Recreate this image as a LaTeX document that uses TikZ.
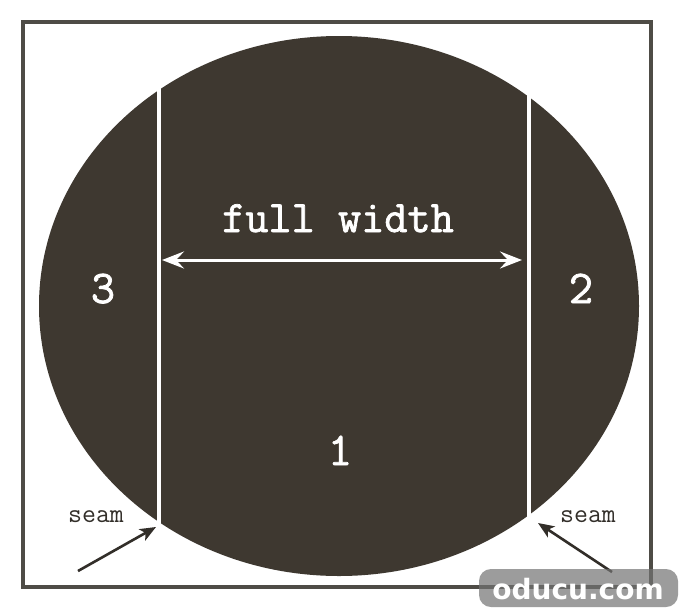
\documentclass[tikz,border=0pt]{standalone}
\usepackage{fontspec}
\usetikzlibrary{arrows.meta,shapes.geometric}
\newfontfamily\wmfont{DejaVu Sans}
\newfontfamily\twfont{Latin Modern Mono}[FakeBold=1.6]
\newfontfamily\twlight{Latin Modern Mono}
\definecolor{discbrown}{RGB}{62,56,48}
\definecolor{framegray}{RGB}{78,76,70}
\definecolor{arrowdark}{RGB}{50,46,41}
\tikzset{
  framebox/.style={draw=framegray, line width=4.5pt},
  disc/.style={ellipse, fill=discbrown, minimum width=600pt, minimum height=540pt, inner sep=0pt},
  seamline/.style={draw=white, line width=4pt},
  widtharrow/.style={draw=white, line width=3pt, {Stealth[length=22pt,width=17pt,inset=8pt]}-{Stealth[length=22pt,width=17pt,inset=8pt]}},
  seamarrow/.style={draw=arrowdark, line width=2.6pt, -{Stealth[length=16pt,width=13pt,inset=4pt]}},
  bigtext/.style={text=white, font=\twfont\bfseries\fontsize{45}{48}\selectfont, anchor=base, inner sep=0pt},
  numtext/.style={text=white, font=\twfont\bfseries\fontsize{47}{50}\selectfont, anchor=base, inner sep=0pt},
  seamtext/.style={text=arrowdark, font=\twlight\fontsize{27}{30}\selectfont, anchor=base, inner sep=0pt},
  wmbox/.style={fill=black!55, fill opacity=0.7, rounded corners=12pt, draw=none},
  wmtext/.style={text=white, draw=none, font=\wmfont\bfseries\fontsize{28}{30}\selectfont, inner sep=0pt}
}
\begin{document}
\begin{tikzpicture}[x=1pt,y=-1pt]
\useasboundingbox (0,0) rectangle (680,614);
\fill[white] (0,0) rectangle (680,614);
\draw[framebox] (23,22) rectangle (651,587);
\node[disc] (disc) at (339,306) {};
% seams
\coordinate (lstop) at (159,78);
\coordinate (lsbot) at (159,530);
\coordinate (rstop) at (529,82);
\coordinate (rsbot) at (529,528);
\draw[seamline] (lstop) -- (lsbot);
\draw[seamline] (rstop) -- (rsbot);
% full width arrow
\coordinate (fwl) at (162,260);
\coordinate (fwr) at (522,260);
\draw[widtharrow] (fwl) -- (fwr);
\node[bigtext] (fw) at (338,232) {full width};
% piece numbers
\node[numtext] (n3) at (103,303) {3};
\node[numtext] (n2) at (581,303) {2};
\node[numtext] (n1) at (340,465) {1};
% seam labels and arrows
\node[seamtext] (seamL) at (96,522) {seam};
\node[seamtext] (seamR) at (588,522) {seam};
\coordinate (laTail) at (78,571);
\coordinate (laTip) at (156,527);
\coordinate (raTail) at (612,572);
\coordinate (raTip) at (538,523);
\draw[seamarrow] (laTail) -- (laTip);
\draw[seamarrow] (raTail) -- (raTip);
% watermark
\fill[wmbox] (479,569) rectangle (678,607);
\node[wmtext] (wm) at (578,589) {oducu.com};
\end{tikzpicture}
\end{document}
